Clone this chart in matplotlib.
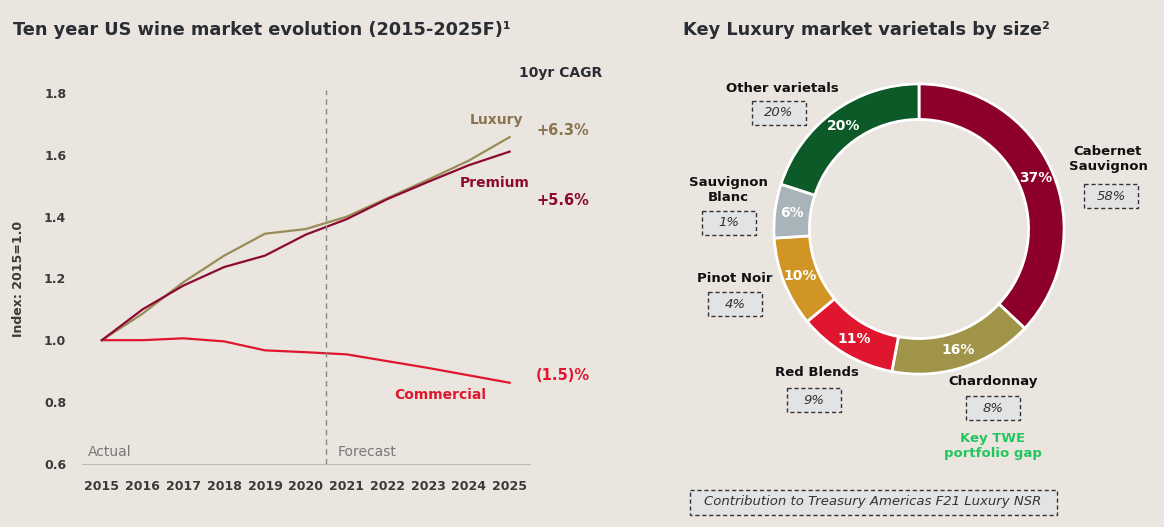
import numpy as np
import matplotlib.pyplot as plt
from matplotlib.patches import Rectangle

# dane - wykres liniowy
years = np.arange(2015, 2026)
luxury = [1.0, 1.086, 1.188, 1.274, 1.345, 1.36, 1.40, 1.46, 1.52, 1.582, 1.658]
premium = [1.0, 1.10, 1.177, 1.237, 1.274, 1.342, 1.392, 1.457, 1.513, 1.567, 1.611]
commercial = [1.0, 1.0, 1.006, 0.996, 0.967, 0.961, 0.954, 0.932, 0.91, 0.886, 0.862]
cagr = ["+6.3%", "+5.6%", "(1.5)%"]

# dane - wykres pierscieniowy
varietals = ["Cabernet\nSauvignon", "Chardonnay", "Red Blends", "Pinot Noir",
             "Sauvignon\nBlanc", "Other varietals"]
shares = [37, 16, 11, 10, 6, 20]
contribution = ["58%", "8%", "9%", "4%", "1%", "20%"]

bg = "#EAE6DF"
c_lux = "#9A8C55"
c_prem = "#8C0A30"
c_comm = "#E0162F"
dark = "#2A2D33"
W, H = 1164, 527

fig = plt.figure(figsize=(W / 100, H / 100), dpi=100, facecolor=bg)
plt.rcParams['font.family'] = ['DejaVu Sans']


def fx(x):
    return x / W


def fy(y):
    return 1 - y / H


# --- wykres liniowy ---
ax = fig.add_axes([fx(81.5), fy(463.6), fx(530) - fx(81.5), fy(93.3) - fy(463.6)])
ax.set_facecolor(bg)
ax.plot(years, commercial, color=c_comm, lw=1.6)
ax.plot(years, luxury, color=c_lux, lw=1.6)
ax.plot(years, premium, color=c_prem, lw=1.6)
ax.plot([2020.5, 2020.5], [0.6, 1.81], color="#888888", lw=1, ls=(0, (4, 3)), clip_on=False)
ax.set_xlim(2014.5, 2025.5)
ax.set_ylim(0.6, 1.8)
ax.set_xticks(years)
ax.set_yticks([0.6, 0.8, 1.0, 1.2, 1.4, 1.6, 1.8])
ax.set_yticklabels(["0.6", "0.8", "1.0", "1.2", "1.4", "1.6", "1.8"])
for s in ["top", "right", "left"]:
    ax.spines[s].set_visible(False)
ax.spines["bottom"].set_color("#BBBBBB")
ax.tick_params(length=0, labelsize=9, labelcolor="#3A3A3A")
ax.tick_params(axis="x", pad=12)
ax.tick_params(axis="y", pad=11)
for lab in ax.get_xticklabels() + ax.get_yticklabels():
    lab.set_fontweight("bold")
ax.set_ylabel("Index: 2015=1.0", fontsize=9, fontweight="bold", color="#3A3A3A", labelpad=14)

ax.text(2024.68, 1.714, "Luxury", color="#8B7350", fontsize=10, fontweight="bold", ha="center", va="center")
ax.text(2024.63, 1.51, "Premium", color=c_prem, fontsize=10, fontweight="bold", ha="center", va="center")
ax.text(2023.3, 0.821, "Commercial", color=c_comm, fontsize=10, fontweight="bold", ha="center", va="center")
ax.text(2026.3, 1.681, cagr[0], color="#8B7350", fontsize=10.5, fontweight="bold", ha="center", va="center", clip_on=False)
ax.text(2026.3, 1.452, cagr[1], color=c_prem, fontsize=10.5, fontweight="bold", ha="center", va="center", clip_on=False)
ax.text(2026.3, 0.886, cagr[2], color=c_comm, fontsize=10.5, fontweight="bold", ha="center", va="center", clip_on=False)
ax.text(2026.25, 1.866, "10yr CAGR", color=dark, fontsize=10, fontweight="bold", ha="center", va="center", clip_on=False)
ax.text(2014.66, 0.637, "Actual", color="#777777", fontsize=10, ha="left", va="center")
ax.text(2020.77, 0.637, "Forecast", color="#777777", fontsize=10, ha="left", va="center")

fig.text(fx(13), fy(30), "Ten year US wine market evolution (2015-2025F)¹", fontsize=12.8,
         fontweight="bold", color=dark, ha="left", va="center")
fig.text(fx(683), fy(30), "Key Luxury market varietals by size²", fontsize=12.8,
         fontweight="bold", color=dark, ha="left", va="center")

# --- wykres pierscieniowy ---
colors = ["#8C0029", "#A09448", "#E0162F", "#D09525", "#A8B4BA", "#0B5A28"]
r = 148
ax2 = fig.add_axes([fx(919 - r), fy(229 + r), 2 * r / W, 2 * r / H])
ax2.set_facecolor(bg)
wedges, _, autotexts = ax2.pie(shares, colors=colors, startangle=90, counterclock=False,
                               radius=1, autopct="%d%%", pctdistance=0.88,
                               wedgeprops=dict(width=0.245, edgecolor="white", linewidth=2))
for t in autotexts:
    t.set_color("white")
    t.set_fontweight("bold")
    t.set_fontsize(10)
ax2.set_xlim(-1.02, 1.02)
ax2.set_ylim(-1.02, 1.02)
ax2.axis("off")

# etykiety i ramki
ov = fig.add_axes([0, 0, 1, 1], facecolor="none")
ov.set_xlim(0, W)
ov.set_ylim(H, 0)
ov.axis("off")

label_pos = [(1108, 159), (993, 382), (817, 372), (735, 279), (728, 190), (782, 89)]
box_pos = [(1111, 196), (993, 408), (814, 400), (735, 304), (728.5, 223), (779, 113)]
for name, val, (lx, ly), (bx, by) in zip(varietals, contribution, label_pos, box_pos):
    ov.text(lx, ly, name, fontsize=9.5, fontweight="bold", color="#111111",
            ha="center", va="center", linespacing=1.2)
    ov.add_patch(Rectangle((bx - 27, by - 11.8), 54, 23.6, facecolor="#E2E3E5",
                           edgecolor="#333333", lw=1, ls=(0, (3, 2))))
    ov.text(bx, by, val, fontsize=9.5, style="italic", color="#333333", ha="center", va="center")

ov.text(993, 446, "Key TWE\nportfolio gap", fontsize=9.5, fontweight="bold", color="#22C55E",
        ha="center", va="center", linespacing=1.2)
ov.add_patch(Rectangle((690, 490), 367, 24.5, facecolor="#E2E3E5",
                       edgecolor="#333333", lw=1, ls=(0, (3, 2))))
ov.text(873, 502, "Contribution to Treasury Americas F21 Luxury NSR", fontsize=9.5,
        style="italic", color="#333333", ha="center", va="center")

fig.savefig("out.png", dpi=100, facecolor=bg)
